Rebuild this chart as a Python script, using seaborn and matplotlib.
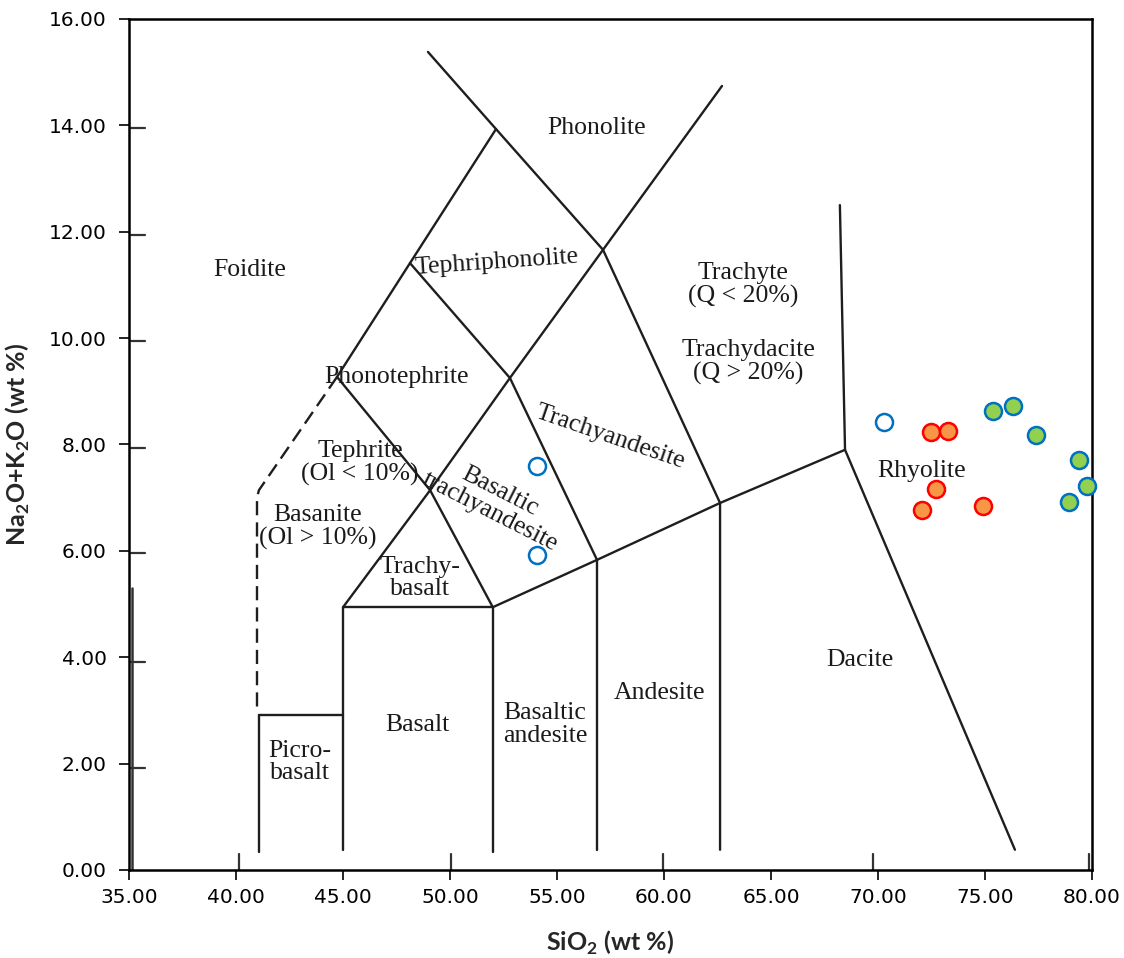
import matplotlib
matplotlib.use("Agg")
import matplotlib.pyplot as plt
import seaborn as sns
import pandas as pd
from matplotlib.ticker import FormatStrFormatter

# ---------------- data: sample points ----------------
open_x = [70.29, 54.05, 54.05]
open_y = [8.42, 7.60, 5.92]
orange_x = [72.46, 73.26, 72.70, 72.04, 74.92]
orange_y = [8.24, 8.26, 7.16, 6.77, 6.85]
green_x = [75.39, 76.32, 77.38, 79.41, 79.75, 78.94]
green_y = [8.63, 8.73, 8.18, 7.71, 7.22, 6.91]

# ---------------- data: TAS field boundaries (as drawn in the background diagram) ----------------
solid_lines = [
    ([48.97, 52.15, 57.15, 62.62, 62.62], [15.38, 13.93, 11.66, 6.90, 0.38]),
    ([52.15, 48.13, 44.72], [13.93, 11.41, 9.27]),
    ([41.07, 41.07], [2.91, 0.34]),
    ([44.72, 49.07, 52.0], [9.27, 7.14, 4.94]),
    ([45.0, 49.07, 52.80, 57.15, 62.71], [4.94, 7.14, 9.25, 11.66, 14.74]),
    ([48.13, 52.80, 56.87], [11.41, 9.25, 5.83]),
    ([45.0, 45.0, 52.0, 52.0], [0.38, 4.94, 4.94, 0.34]),
    ([41.07, 45.0], [2.91, 2.91]),
    ([52.0, 56.87, 62.62, 68.46], [4.94, 5.83, 6.90, 7.90]),
    ([56.87, 56.87], [5.83, 0.38]),
    ([68.22, 68.46, 76.40], [12.50, 7.90, 0.38]),
]
dashed_lines = [
    ([44.72, 41.07, 40.98, 40.98], [9.27, 7.14, 7.0, 3.0]),
]
# tick marks of the scanned background diagram
scan_left_ticks_y = [13.95, 11.94, 9.95, 7.93, 5.96, 3.91, 1.92]
scan_bottom_ticks_x = [40.14, 50.05, 59.95, 69.77, 79.86]

# ---------------- data: field names ----------------
field_names = ["Phonolite", "Foidite", "Tephriphonolite", "Trachyte\n(Q < 20%)",
               "Trachydacite\n(Q > 20%)", "Phonotephrite", "Trachyandesite",
               "Tephrite\n(Ol < 10%)", "Basaltic\ntrachyandesite", "Rhyolite",
               "Basanite\n(Ol > 10%)", "Trachy-\nbasalt", "Dacite", "Andesite",
               "Basalt", "Basaltic\nandesite", "Picro-\nbasalt"]
field_x = [56.87, 40.65, 52.20, 63.69, 63.93, 47.52, 57.48, 45.79, 52.10, 72.06,
           43.83, 48.60, 69.16, 59.81, 48.46, 54.44, 42.99]
field_y = [13.95, 11.28, 11.43, 11.00, 9.55, 9.27, 8.14, 7.65, 6.92, 7.50,
           6.45, 5.49, 3.95, 3.33, 2.73, 2.73, 2.03]
field_rot = [0, 0, 4, 0, 0, 0, -19, 0, -27, 0, 0, 0, 0, 0, 0, 0, 0]

x_ticks = [35, 40, 45, 50, 55, 60, 65, 70, 75, 80]
y_ticks = [0, 2, 4, 6, 8, 10, 12, 14, 16]

# ---------------- figure ----------------
sns.set_style("white")
plt.rcParams["mathtext.fontset"] = "custom"
plt.rcParams["mathtext.rm"] = "Lato"
plt.rcParams["mathtext.bf"] = "Lato:bold"
fig = plt.figure(figsize=(11.24, 9.58), dpi=100)
ax = fig.add_axes([0.1148, 0.0919, 0.8567, 0.8883])

line_col = "#1e1e1e"
for xs, ys in solid_lines:
    sns.lineplot(x=xs, y=ys, ax=ax, sort=False, estimator=None, color=line_col, lw=1.7, zorder=2)
for xs, ys in dashed_lines:
    ax.plot(xs, ys, color=line_col, lw=1.7, ls=(0, (6, 3)), zorder=2)

# scanned-diagram tick marks
for ty in scan_left_ticks_y:
    ax.plot([35.1, 35.75], [ty, ty], color="#333333", lw=1.6, zorder=2)
for tx in scan_bottom_ticks_x:
    ax.plot([tx, tx], [0.0, 0.3], color="#333333", lw=1.6, zorder=2)
ax.plot([35.12, 35.12], [0.0, 5.3], color="#333333", lw=1.8, zorder=2)

for name, fx, fy, rot in zip(field_names, field_x, field_y, field_rot):
    ax.text(fx, fy, name, ha="center", va="center", rotation=rot, rotation_mode="anchor",
            fontsize=18.5, family="Liberation Serif", color="#1a1a1a", linespacing=1.05, zorder=3)

df_open = pd.DataFrame({"x": open_x, "y": open_y})
df_or = pd.DataFrame({"x": orange_x, "y": orange_y})
df_gr = pd.DataFrame({"x": green_x, "y": green_y})
sns.scatterplot(data=df_open, x="x", y="y", ax=ax, s=150, facecolor="white",
                edgecolor="#0070C0", linewidth=1.8, zorder=5, clip_on=False)
sns.scatterplot(data=df_or, x="x", y="y", ax=ax, s=150, facecolor="#F79646",
                edgecolor="#FF0000", linewidth=1.8, zorder=5, clip_on=False)
sns.scatterplot(data=df_gr, x="x", y="y", ax=ax, s=150, facecolor="#92D050",
                edgecolor="#0070C0", linewidth=1.8, zorder=5, clip_on=False)

ax.set_xlim(35, 80)
ax.set_ylim(0, 16)
ax.set_xticks(x_ticks)
ax.set_yticks(y_ticks)
ax.xaxis.set_major_formatter(FormatStrFormatter("%.2f"))
ax.yaxis.set_major_formatter(FormatStrFormatter("%.2f"))
ax.tick_params(axis="both", direction="out", length=7, width=1.2, labelsize=14.5,
               color="black", labelcolor="black", bottom=True, left=True)
ax.tick_params(axis="y", pad=9)
ax.tick_params(axis="x", pad=6)
for sp in ax.spines.values():
    sp.set_color("black")
    sp.set_linewidth(1.8)

ax.set_xlabel("SiO$_\\mathbf{2}$ (wt %)", fontsize=18, fontweight="bold", family="Lato", labelpad=16)
ax.set_ylabel("Na$_\\mathbf{2}$O+K$_\\mathbf{2}$O (wt %)", fontsize=18, fontweight="bold",
              family="Lato", labelpad=12)

fig.savefig("out.png", dpi=100, facecolor="white")
